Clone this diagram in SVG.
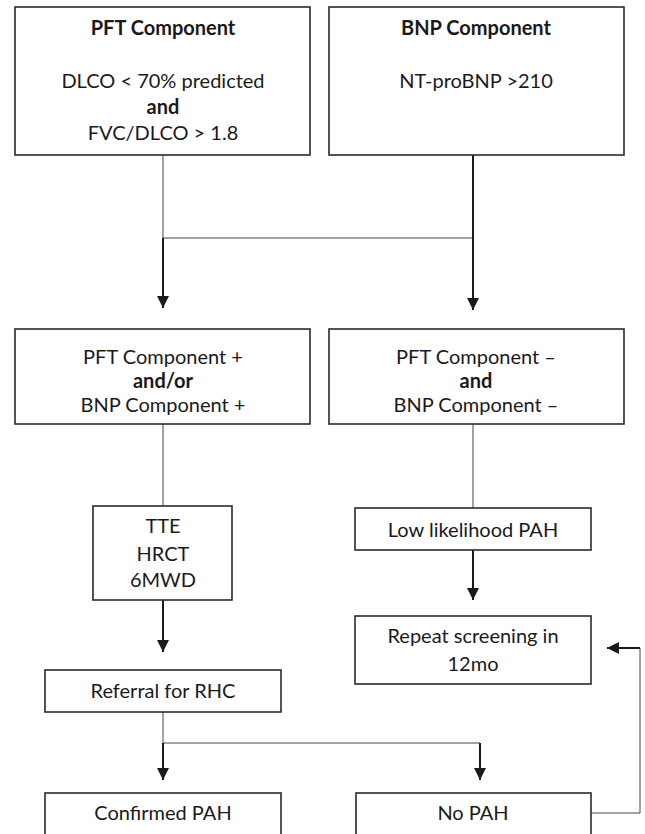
<svg xmlns="http://www.w3.org/2000/svg" width="645" height="834" viewBox="0 0 645 834">
<defs>
<marker id="ah" markerWidth="12" markerHeight="12" viewBox="0 0 12 12" refX="12" refY="6" orient="auto" markerUnits="userSpaceOnUse">
<path d="M0,0 L12,6 L0,12 Z" fill="#1a1a1a"/>
</marker>
<style>
.box{fill:#fff;stroke:#2a2a2a;stroke-width:1.6}
.t{font-family:Lato,"Open Sans","Liberation Sans",sans-serif;font-size:20px;fill:#1a1a1a;text-anchor:middle}
.b{font-weight:bold}
.thin{fill:none;stroke:#444;stroke-width:1}
.thick{fill:none;stroke:#1a1a1a;stroke-width:2}
</style>
</defs>
<rect width="645" height="834" fill="#fff"/>
<g id="connectors">
<path class="thin" d="M163,155 V238 H473"/>
<path class="thick" d="M163,238 V308" marker-end="url(#ah)"/>
<path class="thick" d="M473,155 V310" marker-end="url(#ah)"/>
<path class="thin" d="M163,424 V506"/>
<path class="thin" d="M473,424 V508"/>
<path class="thick" d="M473,550 V600" marker-end="url(#ah)"/>
<path class="thick" d="M163,600 V652" marker-end="url(#ah)"/>
<path class="thin" d="M163,712 V743 H480"/>
<path class="thick" d="M163,743 V780" marker-end="url(#ah)"/>
<path class="thick" d="M480,743 V780" marker-end="url(#ah)"/>
<path class="thin" d="M591,813 H640 V648"/>
<path class="thick" d="M640,648 H607" marker-end="url(#ah)"/>
</g>
<g id="pft">
<rect class="box" x="15" y="7" width="295" height="148"/>
<text class="t b" x="163" y="35">PFT Component</text>
<text class="t" x="163" y="88">DLCO &lt; 70% predicted</text>
<text class="t b" x="163" y="114">and</text>
<text class="t" x="163" y="140">FVC/DLCO &gt; 1.8</text>
</g>
<g id="bnp">
<rect class="box" x="329" y="7" width="295" height="148"/>
<text class="t b" x="476" y="35">BNP Component</text>
<text class="t" x="476" y="88">NT-proBNP &gt;210</text>
</g>
<g id="positive">
<rect class="box" x="15" y="329" width="295" height="95"/>
<text class="t" x="163" y="364">PFT Component +</text>
<text class="t b" x="163" y="388">and/or</text>
<text class="t" x="163" y="412">BNP Component +</text>
</g>
<g id="negative">
<rect class="box" x="329" y="329" width="295" height="95"/>
<text class="t" x="476" y="364">PFT Component –</text>
<text class="t b" x="476" y="388">and</text>
<text class="t" x="476" y="412">BNP Component –</text>
</g>
<g id="tests">
<rect class="box" x="93" y="506" width="139" height="94"/>
<text class="t" x="163" y="533">TTE</text>
<text class="t" x="163" y="561">HRCT</text>
<text class="t" x="163" y="587">6MWD</text>
</g>
<g id="low">
<rect class="box" x="355" y="508" width="236" height="42"/>
<text class="t" x="473" y="537">Low likelihood PAH</text>
</g>
<g id="repeat">
<rect class="box" x="355" y="616" width="236" height="68"/>
<text class="t" x="473" y="643">Repeat screening in</text>
<text class="t" x="473" y="671">12mo</text>
</g>
<g id="referral">
<rect class="box" x="45" y="670" width="236" height="42"/>
<text class="t" x="163" y="698">Referral for RHC</text>
</g>
<g id="confirmed">
<rect class="box" x="45" y="793" width="236" height="60"/>
<text class="t" x="163" y="820">Confirmed PAH</text>
</g>
<g id="nopah">
<rect class="box" x="356" y="793" width="235" height="60"/>
<text class="t" x="473" y="820">No PAH</text>
</g>
</svg>
